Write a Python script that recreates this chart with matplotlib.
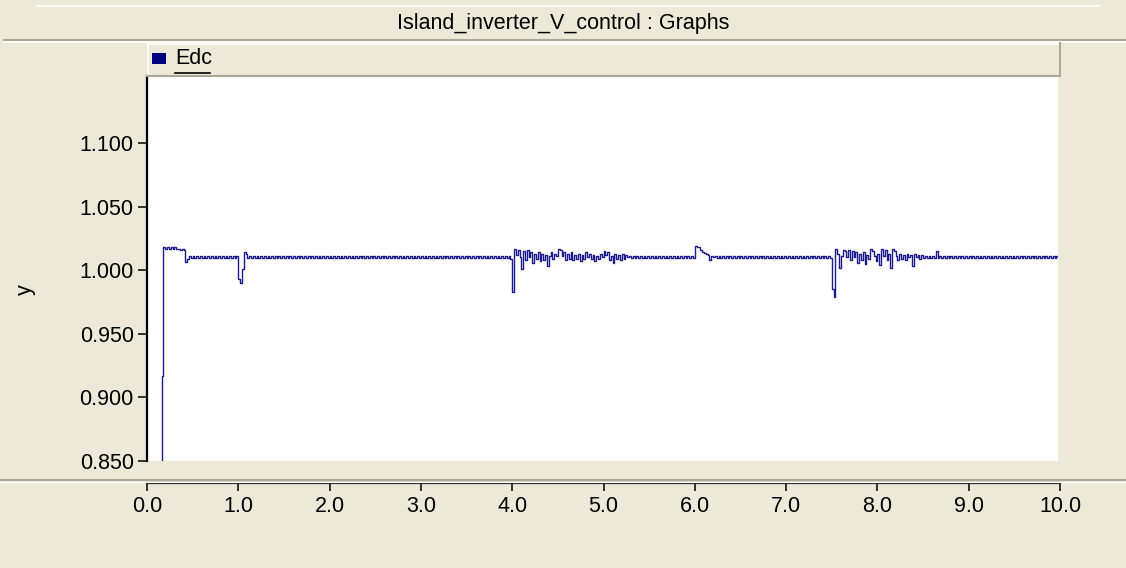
import numpy as np
import matplotlib
matplotlib.use("Agg")
import matplotlib.pyplot as plt
from matplotlib.patches import Rectangle
from matplotlib.lines import Line2D

# ---------------- data ----------------
title_text = "Island_inverter_V_control : Graphs"
series_name = "Edc"
y_label = "y"
x_ticks = [0.0, 1.0, 2.0, 3.0, 4.0, 5.0, 6.0, 7.0, 8.0, 9.0, 10.0]
y_ticks = [0.850, 0.900, 0.950, 1.000, 1.050, 1.100]
sample_dt = 0.02  # s, step-hold samples

edc_values = [
    # 0.00 - 0.48
    0.800, 0.800, 0.800, 0.800, 0.800, 0.800, 0.800, 0.800, 0.917, 1.0183,
    1.0170, 1.0183, 1.0170, 1.0183, 1.0170, 1.0183, 1.0170, 1.0168, 1.0155, 1.0168,
    1.0155, 1.0065, 1.0085, 1.0115, 1.0095,
    # 0.50 - 0.98
    1.0115, 1.0095, 1.0115, 1.0095, 1.0115, 1.0095, 1.0115, 1.0095, 1.0115, 1.0095,
    1.0115, 1.0095, 1.0115, 1.0095, 1.0115, 1.0095, 1.0115, 1.0095, 1.0115, 1.0095,
    1.0115, 1.0095, 1.0115, 1.0095, 1.0115,
    # 1.00 - 1.48
    0.9930, 0.9900, 1.0010, 1.0140, 1.0125, 1.0095, 1.0115, 1.0095, 1.0115, 1.0095,
    1.0115, 1.0095, 1.0115, 1.0095, 1.0115, 1.0095, 1.0115, 1.0095, 1.0115, 1.0095,
    1.0115, 1.0095, 1.0115, 1.0095, 1.0115,
    # 1.50 - 1.98
    1.0095, 1.0115, 1.0095, 1.0115, 1.0095, 1.0115, 1.0095, 1.0115, 1.0095, 1.0115,
    1.0095, 1.0115, 1.0095, 1.0115, 1.0095, 1.0115, 1.0095, 1.0115, 1.0095, 1.0115,
    1.0095, 1.0115, 1.0095, 1.0115, 1.0095,
    # 2.00 - 2.48
    1.0115, 1.0095, 1.0115, 1.0095, 1.0115, 1.0095, 1.0115, 1.0095, 1.0115, 1.0095,
    1.0115, 1.0095, 1.0115, 1.0095, 1.0115, 1.0095, 1.0115, 1.0095, 1.0115, 1.0095,
    1.0115, 1.0095, 1.0115, 1.0095, 1.0115,
    # 2.50 - 2.98
    1.0095, 1.0115, 1.0095, 1.0115, 1.0095, 1.0115, 1.0095, 1.0115, 1.0095, 1.0115,
    1.0095, 1.0115, 1.0095, 1.0115, 1.0095, 1.0115, 1.0095, 1.0115, 1.0095, 1.0115,
    1.0095, 1.0115, 1.0095, 1.0115, 1.0095,
    # 3.00 - 3.48
    1.0115, 1.0095, 1.0115, 1.0095, 1.0115, 1.0095, 1.0115, 1.0095, 1.0115, 1.0095,
    1.0115, 1.0095, 1.0115, 1.0095, 1.0115, 1.0095, 1.0115, 1.0095, 1.0115, 1.0095,
    1.0115, 1.0095, 1.0115, 1.0095, 1.0115,
    # 3.50 - 3.98
    1.0095, 1.0115, 1.0095, 1.0115, 1.0095, 1.0115, 1.0095, 1.0115, 1.0095, 1.0115,
    1.0095, 1.0115, 1.0095, 1.0115, 1.0095, 1.0115, 1.0095, 1.0115, 1.0095, 1.0115,
    1.0095, 1.0115, 1.0095, 1.0110, 1.0090,
    # 4.00 - 4.48
    0.9830, 1.0170, 1.0120, 1.0160, 1.0100, 1.0010, 1.0150, 1.0080, 1.0160, 1.0100,
    1.0140, 1.0060, 1.0130, 1.0090, 1.0140, 1.0070, 1.0130, 1.0080, 1.0120, 1.0030,
    1.0110, 1.0140, 1.0090, 1.0130, 1.0110,
    # 4.50 - 4.98
    1.0170, 1.0160, 1.0110, 1.0140, 1.0080, 1.0130, 1.0090, 1.0140, 1.0080, 1.0120,
    1.0090, 1.0130, 1.0070, 1.0120, 1.0090, 1.0140, 1.0100, 1.0130, 1.0090, 1.0120,
    1.0070, 1.0110, 1.0090, 1.0130, 1.0100,
    # 5.00 - 5.48
    1.0150, 1.0120, 1.0140, 1.0080, 1.0110, 1.0060, 1.0130, 1.0090, 1.0120, 1.0080,
    1.0130, 1.0090, 1.0120, 1.0100, 1.0115, 1.0095, 1.0115, 1.0095, 1.0115, 1.0095,
    1.0115, 1.0095, 1.0115, 1.0095, 1.0115,
    # 5.50 - 5.98
    1.0095, 1.0115, 1.0095, 1.0115, 1.0095, 1.0115, 1.0095, 1.0115, 1.0095, 1.0115,
    1.0095, 1.0115, 1.0095, 1.0115, 1.0095, 1.0115, 1.0095, 1.0115, 1.0095, 1.0115,
    1.0095, 1.0115, 1.0095, 1.0115, 1.0095,
    # 6.00 - 6.48
    1.0190, 1.0185, 1.0180, 1.0160, 1.0140, 1.0135, 1.0130, 1.0120, 1.0080, 1.0115,
    1.0100, 1.0115, 1.0095, 1.0115, 1.0095, 1.0115, 1.0095, 1.0115, 1.0095, 1.0115,
    1.0095, 1.0115, 1.0095, 1.0115, 1.0095,
    # 6.50 - 6.98
    1.0115, 1.0095, 1.0115, 1.0095, 1.0115, 1.0095, 1.0115, 1.0095, 1.0115, 1.0095,
    1.0115, 1.0095, 1.0115, 1.0095, 1.0115, 1.0095, 1.0115, 1.0095, 1.0115, 1.0095,
    1.0115, 1.0095, 1.0115, 1.0095, 1.0115,
    # 7.00 - 7.48
    1.0095, 1.0115, 1.0095, 1.0115, 1.0095, 1.0115, 1.0095, 1.0115, 1.0095, 1.0115,
    1.0095, 1.0115, 1.0095, 1.0115, 1.0095, 1.0115, 1.0095, 1.0115, 1.0095, 1.0115,
    1.0095, 1.0115, 1.0095, 1.0115, 1.0095,
    # 7.50 - 7.98
    0.9850, 0.9790, 1.0170, 1.0130, 1.0020, 1.0110, 1.0160, 1.0150, 1.0100, 1.0160,
    1.0080, 1.0150, 1.0100, 1.0140, 1.0060, 1.0130, 1.0080, 1.0140, 1.0050, 1.0120,
    1.0090, 1.0170, 1.0150, 1.0110, 1.0070,
    # 8.00 - 8.48
    1.0130, 1.0040, 1.0170, 1.0110, 1.0160, 1.0080, 1.0130, 1.0020, 1.0170, 1.0150,
    1.0110, 1.0080, 1.0130, 1.0090, 1.0120, 1.0080, 1.0130, 1.0100, 1.0120, 1.0030,
    1.0130, 1.0100, 1.0120, 1.0090, 1.0120,
    # 8.50 - 8.98
    1.0095, 1.0115, 1.0095, 1.0115, 1.0095, 1.0115, 1.0095, 1.0150, 1.0095, 1.0115,
    1.0095, 1.0115, 1.0095, 1.0115, 1.0095, 1.0115, 1.0095, 1.0115, 1.0095, 1.0115,
    1.0095, 1.0115, 1.0095, 1.0115, 1.0095,
    # 9.00 - 9.48
    1.0115, 1.0095, 1.0115, 1.0095, 1.0115, 1.0095, 1.0115, 1.0095, 1.0115, 1.0095,
    1.0115, 1.0095, 1.0115, 1.0095, 1.0115, 1.0095, 1.0115, 1.0095, 1.0115, 1.0095,
    1.0115, 1.0095, 1.0115, 1.0095, 1.0115,
    # 9.50 - 9.98
    1.0095, 1.0115, 1.0095, 1.0115, 1.0095, 1.0115, 1.0095, 1.0115, 1.0095, 1.0115,
    1.0095, 1.0115, 1.0095, 1.0115, 1.0095, 1.0115, 1.0095, 1.0115, 1.0095, 1.0115,
    1.0095, 1.0115, 1.0095, 1.0115, 1.0095,
]

# ---------------- style ----------------
W, H = 1126, 568
BG = "#ECE9D8"
GRAY = "#ACA899"
LINE_C = "#1C1C8E"
FONT = ["Liberation Sans", "DejaVu Sans"]
plt.rcParams["font.family"] = FONT
FS = 15.5

fig = plt.figure(figsize=(W / 100, H / 100), dpi=100, facecolor=BG)


def rect(x0, y0, x1, y1):
    return [x0 / W, 1 - y1 / H, (x1 - x0) / W, (y1 - y0) / H]


def fx(x):
    return x / W


def fy(y):
    return 1 - y / H


def hline(x0, x1, y, color, lw=1.0):
    fig.add_artist(Line2D([fx(x0), fx(x1)], [fy(y), fy(y)], color=color, lw=lw,
                          transform=fig.transFigure))


def vline(x, y0, y1, color, lw=1.0):
    fig.add_artist(Line2D([fx(x), fx(x)], [fy(y0), fy(y1)], color=color, lw=lw,
                          transform=fig.transFigure))


# title bar
hline(37, 1100, 5.5, "white", 1.2)
fig.text(fx(563), fy(24), title_text, ha="center", va="center", fontsize=FS, color="black")
hline(4, 1126, 39.5, GRAY, 1.5)
hline(4, 1126, 41.5, "white", 1.2)

# legend bar
fig.add_artist(Rectangle((fx(147), fy(76)), fx(1059) - fx(147), fy(43) - fy(76),
                         transform=fig.transFigure, facecolor=BG, edgecolor="none"))
hline(147, 1059, 43.5, "white", 1.2)
vline(147.5, 43, 76, "white", 1.2)
hline(147, 1060, 75.5, GRAY, 1.5)
vline(1059.5, 43, 76, GRAY, 1.5)
fig.add_artist(Rectangle((fx(152), fy(64)), fx(166) - fx(152), fy(53) - fy(64),
                         transform=fig.transFigure, facecolor="#000080", edgecolor="none"))
fig.text(fx(175), fy(59), series_name, ha="left", va="center", fontsize=FS, color="black")
hline(175, 210, 72.5, "black", 1.2)

# main plot
ax = fig.add_axes(rect(147, 76, 1058, 461))
ax.set_facecolor("white")
t = np.arange(len(edc_values) + 1) * sample_dt
v = list(edc_values) + [edc_values[-1]]
ax.step(t, v, where="post", color=LINE_C, lw=1.0)
x_right = (1058 - 147) / (1060 - 147) * 10.0
ax.set_xlim(0, x_right)
y_top = 0.85 + (461 - 76) / (461 - 143) * 0.25
ax.set_ylim(0.85, y_top)
for s in ["top", "right", "bottom"]:
    ax.spines[s].set_visible(False)
ax.spines["left"].set_linewidth(1.6)
ax.spines["left"].set_bounds(0.85, y_top)
ax.set_xticks([])
ax.set_yticks(y_ticks)
ax.set_yticklabels([f"{y:.3f}" for y in y_ticks])
ax.tick_params(axis="y", direction="out", length=6.5, width=1.1, pad=3,
               labelsize=FS, colors="black")
fig.text(fx(25), fy(290), y_label, rotation=90, ha="center", va="center",
         fontsize=FS, color="black")

# x axis strip
hline(0, 1126, 480, GRAY, 1.5)
hline(0, 1126, 481.5, "white", 1.0)
axx = fig.add_axes(rect(147, 483, 1060, 484))
axx.set_facecolor("none")
axx.patch.set_visible(False)
for s in ["left", "right", "bottom"]:
    axx.spines[s].set_visible(False)
axx.spines["top"].set_linewidth(1.6)
axx.set_xlim(0, 10)
axx.set_yticks([])
axx.set_xticks(x_ticks)
axx.set_xticklabels([f"{x:.1f}" for x in x_ticks])
axx.xaxis.set_ticks_position("top")
axx.tick_params(axis="x", direction="in", length=6, width=1.1, labeltop=False,
                labelbottom=True, labelsize=FS, pad=9, colors="black")

fig.savefig("out.png", dpi=100, facecolor=BG)
